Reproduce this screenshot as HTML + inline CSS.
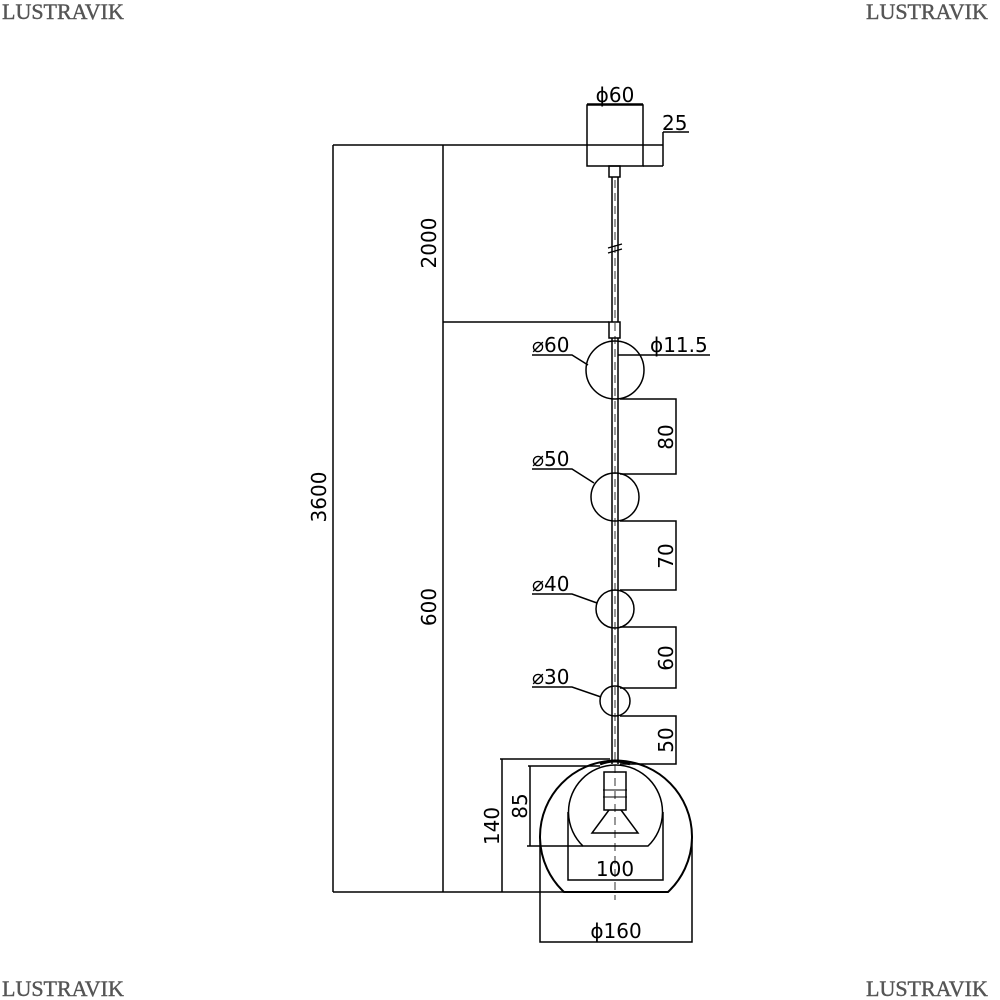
<!DOCTYPE html>
<html><head><style>body{margin:0;background:#fff}svg{display:block}</style></head><body>
<svg width="1000" height="1000" viewBox="0 0 1000 1000" xmlns="http://www.w3.org/2000/svg" font-family="'DejaVu Sans','Liberation Sans',sans-serif">
<g font-family="'Liberation Serif',serif" font-size="22" fill="#555" stroke="#555" stroke-width="0.4">
<text x="2" y="19">LUSTRAVIK</text><text x="866" y="19">LUSTRAVIK</text>
<text x="2" y="996">LUSTRAVIK</text><text x="866" y="996">LUSTRAVIK</text>
</g>
<g stroke="#000" fill="none" stroke-width="1.5">
<rect x="587" y="105" width="56" height="61"/>
<line x1="643" y1="166" x2="663" y2="166"/>
<line x1="663" y1="132" x2="663" y2="166"/>
<line x1="663" y1="132" x2="689" y2="132"/>
<line x1="587" y1="104" x2="643" y2="104"/>
<line x1="333" y1="145" x2="663" y2="145"/>
<rect x="609" y="166" width="11" height="11"/>
<line x1="612" y1="177" x2="612" y2="322"/><line x1="618" y1="177" x2="618" y2="322"/>
<path d="M608 248 l14 -4 M608 253 l14 -4" stroke-width="1.2"/>
<rect x="609" y="322" width="11" height="16"/>
<line x1="443" y1="322" x2="609" y2="322"/>
<line x1="612" y1="338" x2="612" y2="764"/><line x1="618" y1="338" x2="618" y2="764"/>
<line x1="615" y1="180" x2="615" y2="900" stroke-width="0.8" stroke-dasharray="8 5"/>
<circle cx="615" cy="370" r="29"/>
<circle cx="615" cy="497" r="24"/>
<circle cx="615" cy="609" r="19"/>
<circle cx="615" cy="701" r="15"/>
<path d="M532 355 H572 L588 365"/>
<path d="M532 469 H572 L594 483"/>
<path d="M532 594 H572 L597 603"/>
<path d="M532 687 H572 L601 697"/>
<line x1="618" y1="355" x2="710" y2="355"/>
<path d="M620 399 H676 V474 H620"/>
<path d="M620 521 H676 V590 H620"/>
<path d="M620 627 H676 V688 H620"/>
<path d="M620 716 H676 V764 H620"/>
<path d="M564 892 A76 76 0 1 1 668 892 Z" stroke-width="2"/>
<path d="M583 846 A47 47 0 1 1 648 846 Z"/>
<path d="M600 764 Q615 758 630 764" stroke-width="3"/>
<rect x="604" y="772" width="22" height="38"/>
<path d="M603 790 h24 M603 797 h24" stroke-width="1"/>
<path d="M609 810 L592 833 H638 L621 810"/>
<line x1="500" y1="759" x2="610" y2="759"/>
<line x1="502" y1="759" x2="502" y2="892"/>
<line x1="333" y1="892" x2="564" y2="892"/>
<line x1="528" y1="766" x2="600" y2="766"/>
<line x1="530" y1="766" x2="530" y2="846"/>
<line x1="527" y1="846" x2="583" y2="846"/>
<path d="M568 812 V880 H663 V812"/>
<path d="M540 840 V942 H692 V840"/>
<line x1="333" y1="145" x2="333" y2="892"/>
<line x1="443" y1="145" x2="443" y2="892"/>
</g>
<g font-size="20" fill="#000">
<text x="615" y="102" text-anchor="middle">ɸ60</text>
<text x="662" y="130">25</text>
<text x="532" y="352">⌀60</text>
<text x="650" y="352">ɸ11.5</text>
<text x="532" y="466">⌀50</text>
<text x="532" y="591">⌀40</text>
<text x="532" y="684">⌀30</text>
<text x="615" y="876" text-anchor="middle">100</text>
<text x="616" y="938" text-anchor="middle">ɸ160</text>
<text transform="translate(326,497) rotate(-90)" text-anchor="middle">3600</text>
<text transform="translate(436,243) rotate(-90)" text-anchor="middle">2000</text>
<text transform="translate(436,607) rotate(-90)" text-anchor="middle">600</text>
<text transform="translate(673,437) rotate(-90)" text-anchor="middle">80</text>
<text transform="translate(673,556) rotate(-90)" text-anchor="middle">70</text>
<text transform="translate(673,658) rotate(-90)" text-anchor="middle">60</text>
<text transform="translate(673,740) rotate(-90)" text-anchor="middle">50</text>
<text transform="translate(499,826) rotate(-90)" text-anchor="middle">140</text>
<text transform="translate(527,806) rotate(-90)" text-anchor="middle">85</text>
</g>
</svg>
</body></html>
